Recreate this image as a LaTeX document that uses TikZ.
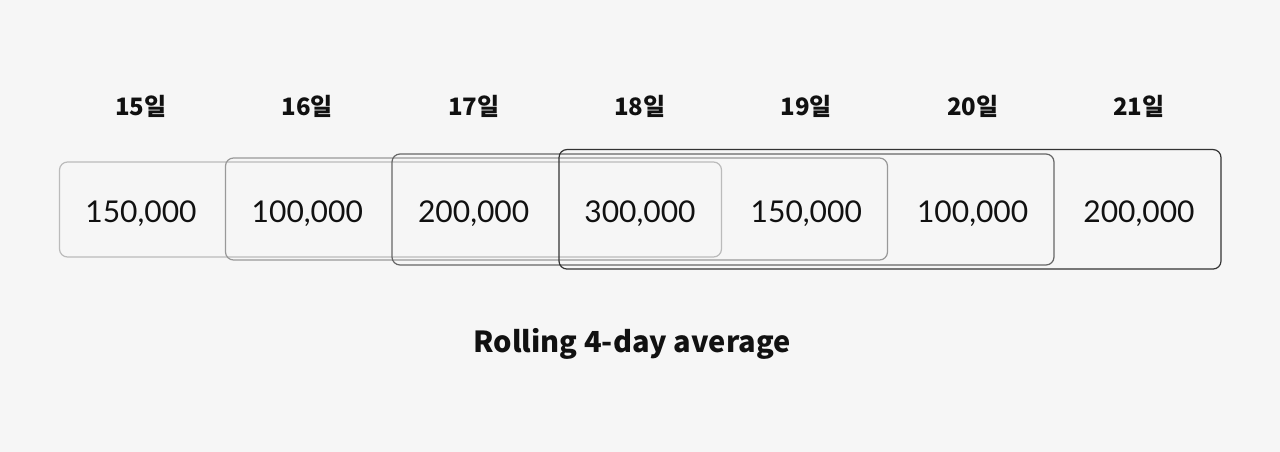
\documentclass[tikz,border=0pt]{standalone}
\usepackage{fontspec}
\setmainfont{Lato}
\newfontfamily\krfont{Noto Sans CJK KR}
\definecolor{bg}{HTML}{F6F6F6}
\definecolor{ink}{HTML}{111111}
\definecolor{win1}{HTML}{BBBBBB}
\definecolor{win2}{HTML}{999999}
\definecolor{win3}{HTML}{666666}
\definecolor{win4}{HTML}{333333}
\begin{document}
\begin{tikzpicture}[x=1pt,y=-1pt,
  daylabel/.style={inner sep=0pt,text=ink,font=\krfont\bfseries\fontsize{24}{28}\selectfont},
  value/.style={inner sep=0pt,text=ink,font=\fontsize{30}{34}\selectfont},
  window/.style={draw,rectangle,rounded corners=8pt,line width=1.2pt,minimum width=662pt,inner sep=0pt},
  caption/.style={inner sep=0pt,text=ink,font=\krfont\bfseries\fontsize{29}{33}\selectfont}]
\fill[bg] (0,0) rectangle (1280,452);
\useasboundingbox (0,0) rectangle (1280,452);
% windows
\node[window,draw=win1,minimum height=95pt] (w1) at (390.5,209.5) {};
\node[window,draw=win2,minimum height=102pt] (w2) at (556.5,209) {};
\node[window,draw=win3,minimum height=111pt] (w3) at (723,209.5) {};
\node[window,draw=win4,minimum height=119.5pt] (w4) at (890,209.3) {};
% day labels and values
\foreach \d/\v [count=\i from 0] in {15/150{,}000,16/100{,}000,17/200{,}000,18/300{,}000,19/150{,}000,20/100{,}000,21/200{,}000}{
  \node[daylabel] (d\i) at (141+166.33*\i,106) {{\d}일};
  \node[value] (v\i) at (141+166.33*\i,213.5) {\v};
}
\node[caption] (cap) at (632,343.5) {Rolling 4-day average};
\end{tikzpicture}
\end{document}
